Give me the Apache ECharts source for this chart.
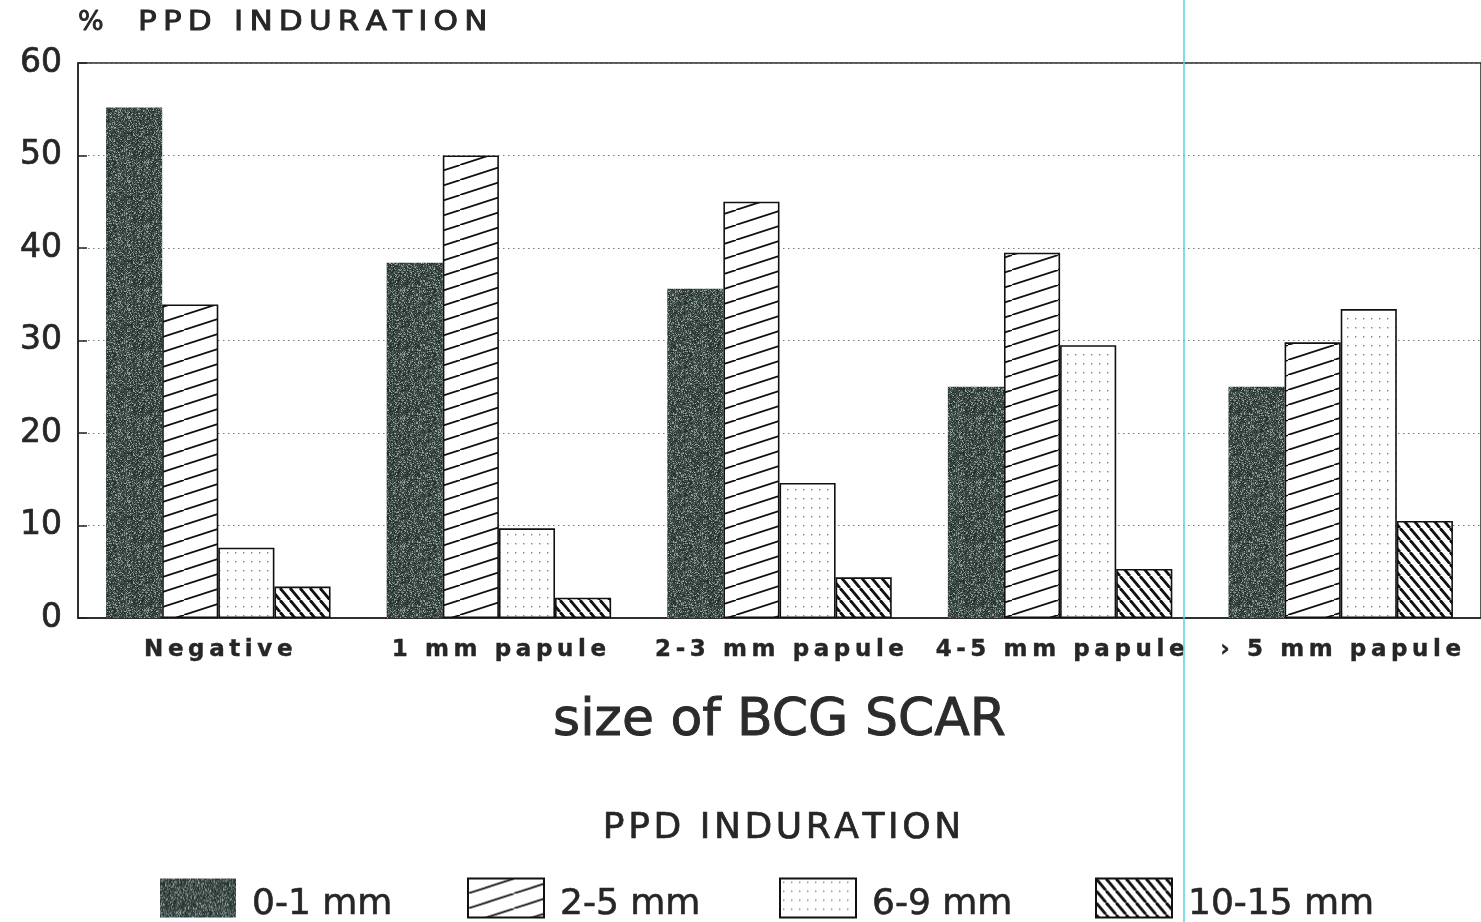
<!DOCTYPE html>
<html><head><meta charset="utf-8">
<script src="https://cdn.jsdelivr.net/npm/echarts@6/dist/echarts.min.js"></script>
<style>html,body{margin:0;padding:0;background:#fff}#c{width:1481px;height:922px}</style>
</head><body><div id="c"></div>
<script>
// ---- data ----
const categories = ['Negative', '1 mm papule', '2-3 mm papule', '4-5 mm papule', '\u203A 5 mm papule'];
const seriesNames = ['0-1 mm', '2-5 mm', '6-9 mm', '10-15 mm'];
const induration0to1 = [55.2, 38.4, 35.6, 25.0, 25.0];
const induration2to5 = [33.9, 50.0, 45.0, 39.5, 29.8];
const induration6to9 = [7.6, 9.7, 14.6, 29.5, 33.4];
const induration10to15 = [3.4, 2.2, 4.4, 5.3, 10.5];
const yTicks = [0, 10, 20, 30, 40, 50, 60];
const yAxisTitle = 'PPD INDURATION';
const yAxisUnit = '%';
const xAxisTitle = 'size of BCG SCAR';
const legendTitle = 'PPD INDURATION';

// ---- fill patterns (style only) ----
function makeCanvas(w, h) { const c = document.createElement('canvas'); c.width = w; c.height = h; return c; }
function hash(x, y) {
  let h = (Math.imul(x, 374761393) + Math.imul(y, 668265263)) | 0;
  h = Math.imul(h ^ (h >>> 13), 1274126177);
  h ^= h >>> 16;
  return (h >>> 0) / 4294967296;
}
function darkPattern() {
  const w = 64, h = 64, c = makeCanvas(w, h), ctx = c.getContext('2d');
  const img = ctx.createImageData(w, h);
  for (let y = 0; y < h; y++) for (let x = 0; x < w; x++) {
    const v = hash(x, y);
    let r = 62, g = 75, b = 71;
    if (v > 0.66) { const k = (v - 0.66) / 0.34; r += 100 * k; g += 105 * k; b += 100 * k; }
    else if (v < 0.3) { r -= 24; g -= 26; b -= 24; }
    const i = (y * w + x) * 4;
    img.data[i] = r; img.data[i + 1] = g; img.data[i + 2] = b; img.data[i + 3] = 255;
  }
  ctx.putImageData(img, 0, 0);
  return c;
}
function hatchPattern(w, h, forward, lw) {
  const c = makeCanvas(w, h), ctx = c.getContext('2d');
  ctx.fillStyle = '#fff'; ctx.fillRect(0, 0, w, h);
  ctx.strokeStyle = '#111'; ctx.lineWidth = lw;
  for (let k = -1; k <= 1; k++) {
    ctx.beginPath();
    if (forward) { ctx.moveTo(k * w, h); ctx.lineTo(k * w + w, 0); }
    else { ctx.moveTo(k * w, 0); ctx.lineTo(k * w + w, h); }
    ctx.stroke();
  }
  return c;
}
function dotPattern() {
  const c = makeCanvas(8, 9), ctx = c.getContext('2d');
  ctx.fillStyle = '#fff'; ctx.fillRect(0, 0, 8, 9);
  ctx.fillStyle = '#808080';
  ctx.fillRect(3, 3, 1.4, 1.4);
  return c;
}
const fills = [darkPattern(), hatchPattern(46, 15, true, 1.7), dotPattern(), hatchPattern(10, 12, false, 2.8)];
const values = [induration0to1, induration2to5, induration6to9, induration10to15];

const spread = (s, sep) => s.split('').join(sep);
const FONT = '"DejaVu Sans", "Liberation Sans", sans-serif';
const INK = '#262626';
const thick = w => ({ textBorderColor: INK, textBorderWidth: w });

const chart = echarts.init(document.getElementById('c'), null, { renderer: 'canvas' });

const legendLefts = [160, 467, 779, 1095];
const legends = seriesNames.map((n, i) => ({
  data: [n], left: legendLefts[i], top: 873, padding: 0, orient: 'horizontal',
  icon: 'rect', itemWidth: 76, itemHeight: 39, selectedMode: false,
  formatter: name => '{t|' + name + '}',
  textStyle: {
    fontFamily: FONT, fontSize: 36, color: INK,
    rich: { t: Object.assign({ fontFamily: FONT, fontSize: 36, color: INK, lineHeight: 36, padding: [14, 0, 0, 11] }, thick(0.6)) }
  }
}));

const option = {
  animation: false,
  backgroundColor: '#fff',
  grid: { left: 78, top: 63, width: 1410, height: 555, show: true, borderColor: '#222', borderWidth: 1.5, backgroundColor: 'transparent' },
  legend: legends,
  xAxis: {
    type: 'category', data: categories,
    axisLine: { lineStyle: { color: '#222', width: 1.5 } },
    axisTick: { show: false },
    axisLabel: Object.assign({ margin: 21, interval: 0, fontFamily: FONT, fontWeight: 'bold', fontSize: 23, lineHeight: 23, color: INK,
      formatter: s => spread(s, '\u2009') }, thick(0.4)),
    name: xAxisTitle, nameLocation: 'middle', nameGap: 77,
    nameTextStyle: Object.assign({ fontFamily: FONT, fontSize: 52, lineHeight: 52, color: '#2b2b2b' }, thick(0.9))
  },
  yAxis: {
    type: 'value', min: yTicks[0], max: yTicks[yTicks.length - 1], interval: yTicks[1] - yTicks[0],
    axisLine: { show: true, lineStyle: { color: '#222', width: 1.5 } },
    axisTick: { show: true, inside: true, length: 9, lineStyle: { color: '#222', width: 1.5 } },
    axisLabel: Object.assign({ margin: 16, fontFamily: FONT, fontSize: 33, color: INK }, thick(0.7)),
    splitLine: { show: true, lineStyle: { color: '#777', width: 1, type: [1.5, 3.5] } }
  },
  series: seriesNames.map((name, i) => ({
    name, type: 'bar', data: values[i], barGap: '0%', barCategoryGap: '20%',
    itemStyle: { color: { image: fills[i], repeat: 'repeat' }, borderColor: i === 0 ? '#37423f' : '#111', borderWidth: i === 0 ? 0 : 1.6 },
    emphasis: { disabled: true }
  })),
  graphic: [
    { type: 'text', x: 78, y: 23, style: { text: yAxisUnit, fontFamily: FONT, fontSize: 27, fill: INK, stroke: INK, lineWidth: 0.8, verticalAlign: 'middle', align: 'left' } },
    { type: 'text', x: 138, y: 23, scaleX: 1.15, originX: 0, style: { text: spread(yAxisTitle, '\u2009'), fontFamily: FONT, fontSize: 27, fill: INK, stroke: INK, lineWidth: 0.9, verticalAlign: 'middle', align: 'left' } },
    { type: 'text', x: 782, y: 829, style: { text: spread(legendTitle, '\u200A'), fontFamily: FONT, fontSize: 36, fill: INK, stroke: INK, lineWidth: 0.7, verticalAlign: 'middle', align: 'center' } },
    { type: 'line', z: 100, shape: { x1: 1184, y1: 0, x2: 1184, y2: 922 }, style: { stroke: '#55d2e2', lineWidth: 1.5 } }
  ]
};
chart.setOption(option);
</script>
</body></html>
